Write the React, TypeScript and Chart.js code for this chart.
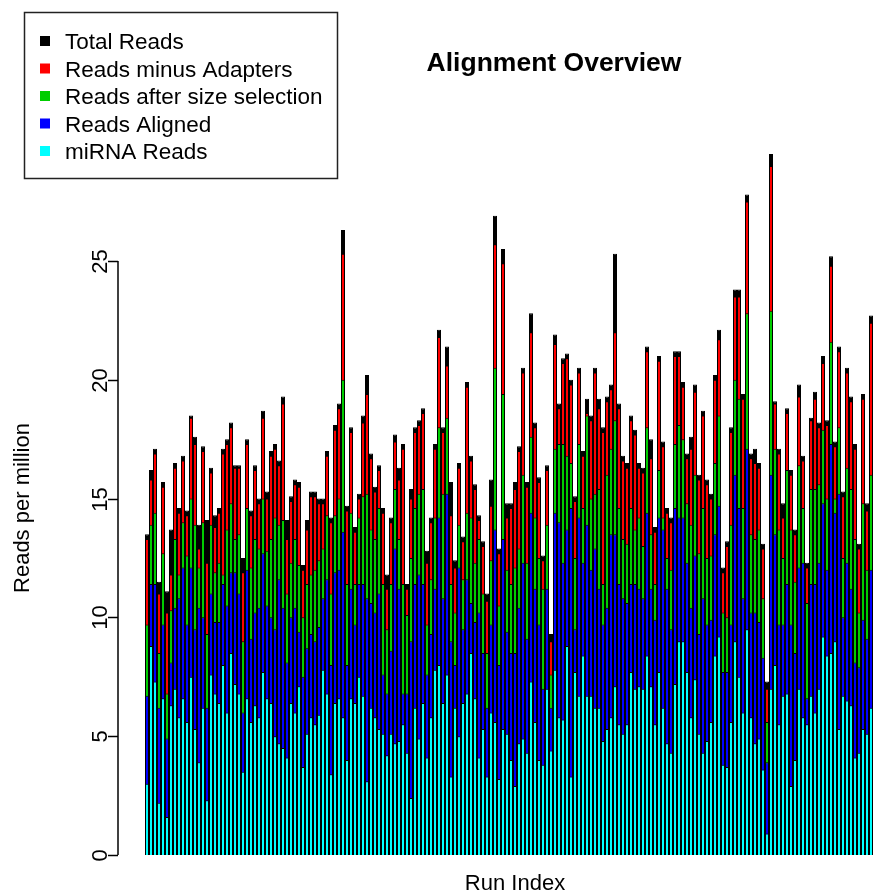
import React, { useEffect, useRef } from "react";
import { Chart, registerables } from "chart.js";

Chart.register(...registerables);

// ---- Data (reads per million, one value per run) ----
const totalReads = [
  13.5,16.2,17.1,11.5,15.7,11.1,13.7,16.5,14.6,16.8,14.5,18.5,17.6,13.9,17.2,14.1,16.3,14.3,14.6,17.1,17.5,18.2,
  16.4,16.4,12.5,17.5,14.5,16.4,15.0,18.7,15.3,17.0,17.3,16.6,19.3,14.1,15.1,15.8,15.7,12.2,14.1,15.3,15.3,15.0,15.0,
  17.0,14.2,18.1,19.0,26.3,14.7,18.0,13.8,15.2,18.5,20.2,16.9,15.5,16.4,14.6,11.8,14.2,17.7,16.3,17.3,11.4,15.4,
  18.0,18.3,18.8,12.8,14.2,17.3,22.1,18.0,21.4,15.7,12.4,16.5,13.4,19.9,16.8,15.6,14.3,13.2,11.0,15.8,26.9,12.9,25.5,
  14.8,14.8,15.7,17.2,20.5,15.7,22.8,18.2,15.9,12.6,16.4,9.3,21.9,19.0,20.9,21.1,20.0,15.1,20.5,17.0,19.2,18.5,20.5,
  19.2,18.0,19.3,19.8,25.3,19.0,16.8,16.5,18.5,17.9,16.5,16.3,21.4,17.5,13.8,21.0,17.4,14.6,14.2,21.2,21.2,19.9,
  16.9,17.6,19.8,16.0,18.7,15.8,15.2,20.2,22.1,12.1,13.2,18.0,23.8,23.8,19.4,27.8,16.9,17.1,16.5,13.1,7.3,29.5,19.1,
  17.1,14.8,18.8,16.2,13.7,19.8,16.8,12.3,18.4,19.5,18.2,21.0,18.3,25.2,17.4,21.4,15.3,20.5,19.3,17.3,13.1,19.4,14.8,22.7,
];

const readsMinusAdapters = [
  13.3,15.8,16.9,11.0,15.5,10.2,11.8,16.3,14.4,16.6,14.3,18.4,17.3,12.9,17.0,12.3,16.1,13.8,14.4,16.9,17.3,18.0,
  16.3,16.3,11.9,17.3,14.3,16.2,14.8,18.4,15.0,16.8,17.1,16.4,19.0,13.3,14.9,15.6,15.5,12.0,13.7,15.1,15.1,14.8,14.8,
  16.8,14.0,17.9,18.8,25.3,14.5,17.8,13.6,15.0,18.2,19.4,16.7,15.3,16.2,14.4,11.2,14.0,17.4,15.8,17.1,11.2,15.0,
  17.8,18.1,18.6,12.3,14.0,17.1,21.8,17.8,20.6,14.3,12.1,16.3,13.2,19.7,16.6,15.4,14.1,13.0,10.7,14.7,25.7,12.7,24.9,
  14.2,14.6,15.4,17.0,20.3,15.5,22.0,18.0,15.7,12.4,16.2,9.0,21.5,18.8,20.7,20.9,19.8,14.9,20.3,16.8,18.6,18.3,20.3,
  18.8,17.8,19.1,19.6,22.0,18.8,16.6,16.3,18.3,17.7,16.3,16.1,21.2,16.7,13.6,20.8,17.2,14.4,14.0,21.0,21.0,19.7,
  16.7,17.1,19.5,15.8,18.5,15.6,15.0,20.0,21.7,11.9,13.0,17.8,23.5,23.5,19.2,27.5,16.7,16.5,16.3,12.9,7.0,29.0,19.0,
  16.9,14.2,18.6,16.0,13.5,19.3,16.6,12.1,18.3,19.2,18.0,20.7,18.1,24.8,17.2,21.2,15.1,20.3,19.1,17.1,12.9,19.2,14.5,22.4,
];

const readsAfterSizeSelection = [
  9.7,13.9,14.4,8.5,12.7,6.8,10.3,13.3,11.8,14.0,12.6,15.0,13.9,12.1,14.0,9.3,13.9,11.9,12.3,11.8,13.7,14.8,
  13.3,13.5,9.0,14.6,12.1,13.3,12.9,15.0,12.8,13.3,14.2,13.9,14.1,11.0,12.3,13.3,12.2,10.0,11.4,11.8,12.0,12.4,12.9,
  14.3,11.0,14.3,15.0,20.0,11.4,14.4,11.4,14.2,15.1,15.2,13.7,13.3,14.6,11.4,9.5,11.4,15.4,13.3,11.4,10.1,12.5,
  14.6,15.2,15.4,9.7,11.6,14.2,18.0,15.2,18.4,11.4,10.2,13.9,11.6,14.4,14.2,12.3,13.3,11.0,8.5,12.4,20.5,10.5,19.4,
  12.0,11.4,12.1,12.9,16.0,12.3,17.6,14.2,12.5,11.2,13.9,7.6,17.1,17.3,17.3,16.8,16.5,12.5,17.3,14.6,18.5,15.0,15.2,
  15.4,11.4,16.0,17.1,18.3,14.6,13.3,13.1,14.6,13.7,14.2,13.0,18.0,13.5,11.4,16.2,14.2,12.5,12.0,17.3,18.1,17.5,
  14.8,13.9,16.0,12.7,14.6,12.5,12.6,16.5,18.5,10.2,10.0,13.9,20.0,19.2,14.6,22.8,13.5,13.3,13.7,10.8,5.6,22.9,17.1,
  13.7,12.5,16.2,13.7,11.5,16.4,14.6,10.6,15.4,15.4,15.6,17.9,15.0,21.6,15.0,18.0,12.5,16.3,15.4,13.3,10.2,14.8,12.0,16.0,
];

const readsAligned = [
  6.7,11.4,11.4,6.2,9.7,4.9,8.1,10.4,10.8,12.1,9.7,12.1,9.5,10.4,10.0,6.2,11.0,9.8,9.8,11.4,10.5,11.9,
  11.9,11.0,6.0,12.0,9.1,10.2,10.4,12.7,10.5,10.0,9.5,11.6,10.4,8.1,10.0,10.4,9.4,7.5,8.7,9.3,9.0,9.6,10.8,
  11.6,8.0,11.9,12.0,13.6,8.0,11.2,9.7,11.4,11.4,10.8,10.6,10.2,11.0,7.6,6.8,8.6,12.9,11.2,6.8,6.8,9.0,
  11.4,11.8,11.4,7.6,9.3,11.2,14.2,10.8,15.2,9.0,8.0,12.1,9.5,11.6,10.6,9.8,10.2,8.5,6.2,9.7,13.7,8.0,13.3,
  9.4,8.5,8.5,10.4,12.3,9.1,14.4,11.2,9.7,7.0,11.2,6.2,14.4,14.0,12.3,13.7,14.6,9.5,14.2,12.3,13.9,12.0,12.9,
  11.2,9.7,10.4,13.5,13.5,11.4,10.8,10.6,11.4,11.4,11.2,10.8,14.4,11.2,9.9,14.2,13.7,11.2,9.5,14.6,14.2,14.2,
  12.3,10.4,12.6,9.3,10.8,9.7,9.9,13.5,14.7,7.7,7.7,9.7,16.0,14.6,10.8,17.1,10.2,10.2,9.8,8.3,3.9,16.0,13.5,
  9.7,9.7,11.4,9.7,8.5,12.1,12.3,6.6,11.4,11.4,12.3,14.8,12.0,17.3,14.4,15.2,10.0,12.3,11.2,8.1,7.9,9.9,9.1,12.0,
];

const mirnaReads = [
  3.0,8.8,7.3,2.2,6.6,1.6,6.3,7.0,5.8,6.6,5.6,7.5,5.3,3.9,6.2,2.3,7.6,6.8,6.4,8.0,6.0,8.5,
  7.2,6.8,3.5,6.6,5.6,6.3,5.8,7.7,6.6,6.4,5.0,4.7,4.5,4.1,6.4,6.0,7.1,3.7,5.1,5.8,5.5,5.9,7.8,
  6.8,3.4,6.4,6.6,5.8,4.0,6.6,6.4,7.5,6.7,3.1,6.2,5.8,5.3,5.1,4.2,5.1,4.7,4.8,5.5,4.3,2.4,
  6.2,4.9,6.4,4.1,5.8,7.8,8.0,6.4,7.6,3.3,6.2,5.0,6.4,6.8,8.5,6.6,4.1,5.3,3.3,6.0,5.6,3.2,5.3,
  5.1,4.0,2.9,4.7,4.9,4.3,7.3,5.6,4.0,3.8,7.0,4.4,7.8,5.8,5.7,8.8,3.3,7.7,6.7,8.4,6.7,6.7,6.2,
  6.2,4.8,5.3,5.8,7.1,5.5,5.1,5.5,7.7,7.0,7.1,7.0,8.4,7.1,5.5,7.7,6.2,4.7,4.3,7.2,9.0,9.0,
  7.7,5.8,7.4,5.1,4.3,4.8,5.6,8.4,9.2,3.8,3.7,5.6,9.0,7.5,6.0,9.5,5.8,4.7,4.9,3.6,0.9,7.0,8.0,
  5.5,6.7,6.8,2.9,4.0,7.0,5.8,5.5,6.7,6.0,7.0,9.2,8.4,8.5,9.0,5.3,6.7,6.5,6.3,4.1,4.3,5.3,5.1,6.2,
];

// Run index (category) for each bar
const runIndex = totalReads.map((_, i) => i + 1);

const seriesNames = [
  "Total Reads",
  "Reads minus Adapters",
  "Reads after size selection",
  "Reads Aligned",
  "miRNA Reads",
];
const seriesColors = ["#000000", "#ff0000", "#00cd00", "#0000ff", "#00ffff"];
const yTicks = [0, 5, 10, 15, 20, 25];

const chartTitle = "Alignment Overview";
const xTitle = "Run Index";
const yTitle = "Reads per million";

const FONT = "'Liberation Sans', Arial, Helvetica, sans-serif";

const decorPlugin = {
  id: "rDecor",
  afterDraw(chart: any) {
    const ctx: CanvasRenderingContext2D = chart.ctx;
    const y = chart.scales.y;
    const axisX = chart.chartArea.left;
    ctx.save();
    ctx.fillStyle = "#000";
    ctx.strokeStyle = "#000";

    // y axis line (only over the tick range, R style)
    ctx.lineWidth = 1.5;
    const yTop = y.getPixelForValue(yTicks[yTicks.length - 1]);
    const yBot = y.getPixelForValue(yTicks[0]);
    ctx.beginPath();
    ctx.moveTo(axisX, yTop);
    ctx.lineTo(axisX, yBot);
    ctx.stroke();

    // ticks and rotated labels
    ctx.font = `22px ${FONT}`;
    ctx.textAlign = "center";
    ctx.textBaseline = "alphabetic";
    yTicks.forEach((t) => {
      const py = Math.round(y.getPixelForValue(t)) + 0.5;
      ctx.beginPath();
      ctx.moveTo(axisX, py);
      ctx.lineTo(axisX - 10, py);
      ctx.stroke();
      ctx.save();
      ctx.translate(axisX - 11, py);
      ctx.rotate(-Math.PI / 2);
      ctx.fillText(String(t), 0, 0);
      ctx.restore();
    });

    // y axis title
    ctx.font = `22px ${FONT}`;
    ctx.save();
    ctx.translate(29, 508);
    ctx.rotate(-Math.PI / 2);
    ctx.textAlign = "center";
    ctx.fillText(yTitle, 0, 0);
    ctx.restore();

    // x axis title
    ctx.textAlign = "center";
    ctx.fillText(xTitle, 515, 890);

    // main title
    ctx.font = `bold 26.5px ${FONT}`;
    ctx.fillText(chartTitle, 554, 71);

    // legend box
    ctx.fillStyle = "#fff";
    ctx.fillRect(24, 12, 313, 166);
    ctx.lineWidth = 1.5;
    ctx.strokeStyle = "#222";
    ctx.strokeRect(24.5, 12.5, 313, 166);
    ctx.font = `22.5px ${FONT}`;
    ctx.textAlign = "left";
    const rows = [41, 68.5, 96, 123.5, 151];
    seriesNames.forEach((name, i) => {
      ctx.fillStyle = seriesColors[i];
      ctx.fillRect(40, rows[i] - 5, 10, 10);
      ctx.fillStyle = "#000";
      ctx.fillText(name, 65, rows[i] + 8);
    });
    ctx.restore();
  },
};

export default function App() {
  const canvasRef = useRef<HTMLCanvasElement | null>(null);

  useEffect(() => {
    const canvas = canvasRef.current;
    if (!canvas) return;
    const series = [totalReads, readsMinusAdapters, readsAfterSizeSelection, readsAligned, mirnaReads];
    const datasets = series.map((vals, si) => ({
      label: seriesNames[si],
      data: runIndex.map((x, i) => ({ x, y: vals[i] })),
      backgroundColor: seriesColors[si],
      borderColor: "#000000",
      borderWidth: { top: 1, left: 1, right: 1, bottom: 0 },
      borderSkipped: "start",
      inflateAmount: 0,
      grouped: false,
      barPercentage: 1,
      categoryPercentage: 1,
      order: 5 - si,
    }));

    const chart = new Chart(canvas, {
      type: "bar",
      data: { datasets: datasets as any },
      options: {
        responsive: false,
        animation: false,
        devicePixelRatio: 1,
        layout: { padding: { left: 118, right: 0, top: 130, bottom: 28 } },
        scales: {
          x: { type: "linear", display: false, min: -6.25, max: 182.5, offset: false },
          y: { type: "linear", display: false, min: -0.463, max: 30.51 },
        },
        plugins: {
          legend: { display: false },
          tooltip: { enabled: false },
          title: { display: false },
        },
      },
      plugins: [decorPlugin],
    });
    return () => chart.destroy();
  }, []);

  return (
    <div
      style={{
        position: "fixed",
        left: 0,
        top: 0,
        width: 873,
        height: 894,
        overflow: "hidden",
        background: "#fff",
      }}
    >
      <canvas ref={canvasRef} width={873} height={894} style={{ display: "block" }} />
    </div>
  );
}
